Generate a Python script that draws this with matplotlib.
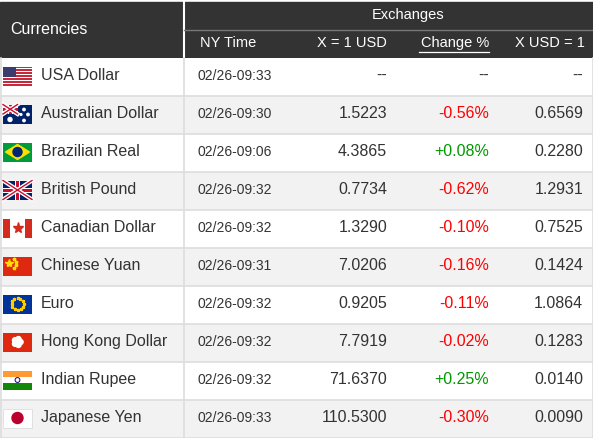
import numpy as np
import matplotlib.pyplot as plt
from matplotlib.patches import Rectangle, Circle, Polygon

plt.rcParams['font.family'] = ['Liberation Sans', 'DejaVu Sans']

names = ["USA Dollar", "Australian Dollar", "Brazilian Real", "British Pound", "Canadian Dollar",
         "Chinese Yuan", "Euro", "Hong Kong Dollar", "Indian Rupee", "Japanese Yen"]
flags = ["us", "au", "br", "gb", "ca", "cn", "eu", "hk", "in", "jp"]
times = ["02/26-09:33", "02/26-09:30", "02/26-09:06", "02/26-09:32", "02/26-09:32",
         "02/26-09:31", "02/26-09:32", "02/26-09:32", "02/26-09:32", "02/26-09:33"]
per_usd = ["--", "1.5223", "4.3865", "0.7734", "1.3290", "7.0206", "0.9205", "7.7919", "71.6370", "110.5300"]
change = ["--", "-0.56%", "+0.08%", "-0.62%", "-0.10%", "-0.16%", "-0.11%", "-0.02%", "+0.25%", "-0.30%"]
usd_per = ["--", "0.6569", "0.2280", "1.2931", "0.7525", "0.1424", "1.0864", "0.1283", "0.0140", "0.0090"]

W, H = 593, 438
fig = plt.figure(figsize=(W / 100, H / 100), dpi=100)
ax = fig.add_axes([0, 0, 1, 1])
ax.set_xlim(0, W)
ax.set_ylim(H, 0)
ax.axis('off')

dark = '#333333'
grid = '#dddddd'
txt = '#333333'
top, hdr, rowh = 2, 58, 38

ax.add_patch(Rectangle((0, top), W, hdr - top, color=dark))
ax.plot([183.5, 183.5], [top, hdr], color='white', lw=1.5)
ax.plot([184, W], [29.5, 29.5], color='#777777', lw=1)
ax.text(10, 29, "Currencies", color='white', fontsize=11.5, va='center')
ax.text(408, 15, "Exchanges", color='white', fontsize=10.5, va='center', ha='center')
ax.text(200, 43, "NY Time", color='white', fontsize=10.5, va='center')
ax.text(387, 43, "X = 1 USD", color='white', fontsize=10.5, va='center', ha='right')
ax.text(489, 43, "Change %", color='white', fontsize=10.5, va='center', ha='right')
ax.plot([419, 489], [51.5, 51.5], color='white', lw=0.9)
ax.text(585, 43, "X USD = 1", color='white', fontsize=10.5, va='center', ha='right')


def draw_flag(kind, x, y, w=29, h=19):
    def r(x0, y0, ww, hh, c):
        ax.add_patch(Rectangle((x + x0, y + y0), ww, hh, color=c, lw=0))
    if kind == "us":
        for i in range(7):
            r(0, i * h / 6.5, w, h / 13, '#c8283c')
            r(0, i * h / 6.5 + h / 13, w, h / 13, 'white')
        r(0, 0, w * 0.45, h * 0.54, '#3c3b6e')
    elif kind in ("au", "gb"):
        r(0, 0, w, h, '#012169')
        cw = w if kind == "gb" else w / 2
        ch = h if kind == "gb" else h / 2
        ax.plot([x, x + cw], [y, y + ch], color='white', lw=3)
        ax.plot([x, x + cw], [y + ch, y], color='white', lw=3)
        ax.plot([x, x + cw], [y, y + ch], color='#c8102e', lw=1)
        ax.plot([x, x + cw], [y + ch, y], color='#c8102e', lw=1)
        r(cw / 2 - 2.5, 0, 5, ch, 'white')
        r(0, ch / 2 - 2.5, cw, 5, 'white')
        r(cw / 2 - 1.5, 0, 3, ch, '#c8102e')
        r(0, ch / 2 - 1.5, cw, 3, '#c8102e')
        if kind == "au":
            for sx, sy, s in [(7, 15, 2), (21, 5, 1.2), (25, 10, 1.2), (21, 16, 1.2), (18, 10, 0.9)]:
                ax.add_patch(Circle((x + sx, y + sy), s, color='white'))
    elif kind == "br":
        r(0, 0, w, h, '#009c3b')
        ax.add_patch(Polygon([(x + 2.5, y + h / 2), (x + w / 2, y + 2), (x + w - 2.5, y + h / 2),
                              (x + w / 2, y + h - 2)], color='#ffdf00'))
        ax.add_patch(Circle((x + w / 2, y + h / 2), 4.5, color='#002776'))
    elif kind == "ca":
        r(0, 0, w, h, 'white')
        r(0, 0, w / 4, h, '#d52b1e')
        r(w * 3 / 4, 0, w / 4, h, '#d52b1e')
        ax.plot(x + w / 2, y + h / 2, marker='*', ms=8, color='#d52b1e')
    elif kind == "cn":
        r(0, 0, w, h, '#de2910')
        ax.plot(x + 6, y + 6, marker='*', ms=6, color='#ffde00')
        for sx, sy in [(11, 2.5), (13, 5), (13, 8.5), (11, 11)]:
            ax.plot(x + sx, y + sy, marker='*', ms=2.5, color='#ffde00')
    elif kind == "eu":
        r(0, 0, w, h, '#003399')
        for a in np.linspace(0, 2 * np.pi, 13)[:-1]:
            ax.plot(x + w / 2 + 6 * np.cos(a), y + h / 2 + 6 * np.sin(a), marker='*', ms=2.2,
                    color='#ffcc00')
    elif kind == "hk":
        r(0, 0, w, h, '#de2910')
        for a in np.linspace(0, 2 * np.pi, 6)[:-1]:
            ax.add_patch(Circle((x + w / 2 + 3 * np.cos(a), y + h / 2 + 3 * np.sin(a)), 2.6, color='white'))
    elif kind == "in":
        r(0, 0, w, h / 3, '#ff9933')
        r(0, h / 3, w, h / 3, 'white')
        r(0, 2 * h / 3, w, h / 3, '#138808')
        ax.add_patch(Circle((x + w / 2, y + h / 2), 2.4, fill=False, ec='#000080', lw=0.7))
    elif kind == "jp":
        r(0, 0, w, h, 'white')
        ax.add_patch(Rectangle((x, y), w, h, fill=False, ec='#dddddd', lw=0.6))
        ax.add_patch(Circle((x + w / 2, y + h / 2), 5.5, color='#bc002d'))


for i in range(len(names)):
    y0 = hdr + i * rowh
    yc = y0 + rowh / 2 - 1.5
    bg = 'white' if i % 2 == 0 else '#f2f2f2'
    ax.add_patch(Rectangle((0, y0), W, rowh, color=bg, lw=0))
    ax.plot([0, W], [y0 + rowh, y0 + rowh], color=grid, lw=1.2)
    draw_flag(flags[i], 3, yc - 9)
    ax.text(41, yc, names[i], fontsize=11.5, va='center', color=txt)
    ax.text(198, yc, times[i], fontsize=10, va='center', color=txt)
    ax.text(387, yc, per_usd[i], fontsize=11.5, va='center', ha='right', color=txt)
    c = txt if change[i] == "--" else ('#ff0000' if change[i].startswith('-') else '#009900')
    ax.text(489, yc, change[i], fontsize=11.5, va='center', ha='right', color=c)
    ax.text(583, yc, usd_per[i], fontsize=11.5, va='center', ha='right', color=txt)

ax.plot([183.5, 183.5], [hdr, H], color=grid, lw=1.2)
ax.plot([0.5, 0.5], [hdr, H], color=grid, lw=1.2)
ax.plot([W - 0.5, W - 0.5], [hdr, H], color=grid, lw=1.2)

fig.savefig("out.png", dpi=100)
